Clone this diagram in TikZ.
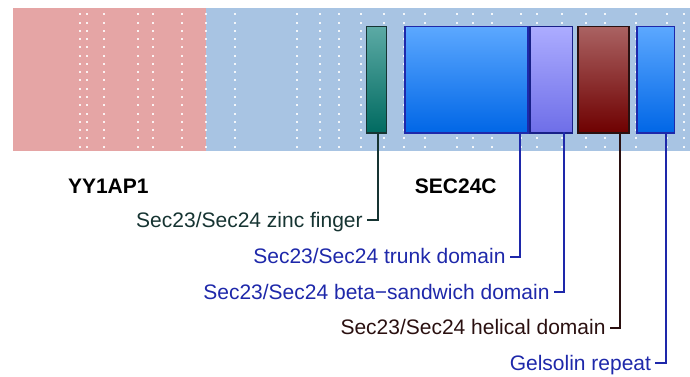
\documentclass[tikz,border=0pt]{standalone}
\usepackage{fontspec}
\setmainfont{Liberation Sans}
\usepackage{tikz}
\usetikzlibrary{positioning,calc}
\definecolor{GenePink}{RGB}{229,165,165}
\definecolor{GeneBlue}{RGB}{168,196,227}
\definecolor{ZincTop}{RGB}{92,170,165}
\definecolor{ZincBot}{RGB}{0,106,96}
\definecolor{ZincLine}{RGB}{22,52,50}
\definecolor{TrunkTop}{RGB}{92,168,255}
\definecolor{TrunkBot}{RGB}{0,102,230}
\definecolor{DomLine}{RGB}{30,40,170}
\definecolor{BetaTop}{RGB}{172,172,255}
\definecolor{BetaBot}{RGB}{110,110,232}
\definecolor{HelixTop}{RGB}{170,98,98}
\definecolor{HelixBot}{RGB}{110,0,0}
\definecolor{HelixLine}{RGB}{42,16,16}

\begin{document}
\begin{tikzpicture}[x=0.5pt, y=-0.5pt, every node/.style={font=\fontsize{10.5}{12}\selectfont}]
\tikzset{dombox/.style={draw, line width=0.8pt, inner sep=0pt, anchor=north west, minimum height=53.3pt}}
\tikzset{lbl/.style={anchor=east, inner sep=0pt, inner xsep=1.8pt, text height=0.72em, text depth=0pt}}
\tikzset{gene/.style={anchor=center, font=\fontsize{10.5}{12}\selectfont\bfseries}}
\tikzset{pinline/.style={line width=0.9pt}}
\useasboundingbox (0,0) rectangle (690,376);
% gene bar
\fill[GenePink] (13,8) rectangle (206,150.7);
\fill[GeneBlue] (206,8) rectangle (690,150.7);
\foreach \cx in {80,87,104,138,153,182,206,235,297,320,339,360.7,384,404,424.7,456.7,472.7,492,521,537.3,562.3,585.7,605.3,635.7,667,684}
  \foreach \k in {0,...,16}
    \fill[white, opacity=0.85] ({\cx-1},{14.3+8.27*\k-1}) rectangle ({\cx+1},{14.3+8.27*\k+1});
% domains
\node[dombox, draw=ZincLine, top color=ZincTop, bottom color=ZincBot, minimum width=10pt] (zinc) at (365.7,25.7) {};
\node[dombox, draw=DomLine, top color=TrunkTop, bottom color=TrunkBot, minimum width=61.5pt] (trunk) at (404.3,25.7) {};
\node[dombox, draw=DomLine!80!black, top color=BetaTop, bottom color=BetaBot, minimum width=21.2pt] (beta) at (529.3,25.7) {};
\node[dombox, draw=HelixLine, top color=HelixTop, bottom color=HelixBot, minimum width=25.3pt] (helix) at (577.3,25.7) {};
\node[dombox, draw=DomLine, top color=TrunkTop, bottom color=TrunkBot, minimum width=18.7pt] (gelsolin) at (636.3,25.7) {};
% gene names
\node[gene] (yy1ap1) at (108.3,186) {YY1AP1};
\node[gene] (sec24c) at (455.8,186) {SEC24C};
% domain labels
\node[lbl, text=ZincLine] (zinclbl) at (366.7,220) {Sec23/Sec24 zinc finger};
\node[lbl, text=DomLine] (trunklbl) at (509.5,256.7) {Sec23/Sec24 trunk domain};
\node[lbl, text=DomLine] (betalbl) at (553.5,292.3) {Sec23/Sec24 beta−sandwich domain};
\node[lbl, text=HelixLine] (helixlbl) at (609.5,327.7) {Sec23/Sec24 helical domain};
\node[lbl, text=DomLine] (gelsolinlbl) at (655,363.3) {Gelsolin repeat};
% connectors
\coordinate (zincpin) at (378.3,132.3);
\coordinate (trunkpin) at (520.3,132.3);
\coordinate (betapin) at (564.3,132.3);
\coordinate (helixpin) at (620.3,132.3);
\coordinate (gelsolinpin) at (666.3,132.3);
\draw[pinline, ZincLine] (zincpin) |- (zinclbl.east);
\draw[pinline, DomLine] (trunkpin) |- (trunklbl.east);
\draw[pinline, DomLine] (betapin) |- (betalbl.east);
\draw[pinline, HelixLine] (helixpin) |- (helixlbl.east);
\draw[pinline, DomLine] (gelsolinpin) |- (gelsolinlbl.east);
\end{tikzpicture}
\end{document}
